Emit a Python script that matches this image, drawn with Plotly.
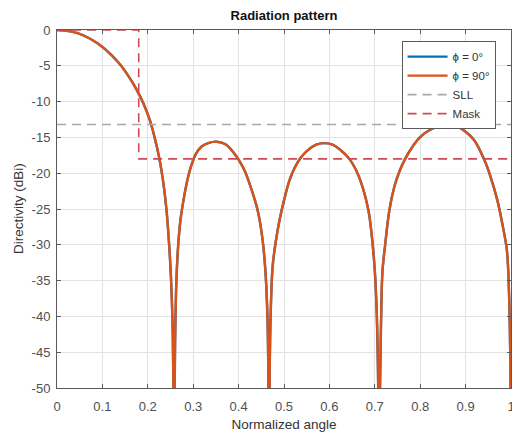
import plotly.graph_objects as go

# ---- data ----
angle = [0.000, 0.030, 0.060, 0.090, 0.120, 0.140, 0.160, 0.175, 0.190, 0.205, 0.215, 0.225, 0.233,
         0.241, 0.247, 0.251, 0.2545, 0.2565, 0.258,
         0.2592, 0.2605, 0.263, 0.267, 0.272, 0.278, 0.285, 0.294, 0.306, 0.318, 0.333, 0.352, 0.372,
         0.391, 0.400, 0.413, 0.428, 0.442, 0.452, 0.459, 0.4635, 0.4658, 0.467,
         0.4682, 0.4705, 0.475, 0.482, 0.490, 0.500, 0.512, 0.523, 0.536, 0.552, 0.571, 0.589, 0.607,
         0.627, 0.644, 0.659, 0.673, 0.686, 0.693, 0.700, 0.7045, 0.7075, 0.710,
         0.7115, 0.714, 0.717, 0.723, 0.732, 0.743, 0.754, 0.766, 0.783, 0.801, 0.823, 0.845, 0.860,
         0.878, 0.898, 0.919, 0.941, 0.955, 0.970, 0.981, 0.991, 0.9955, 0.998, 0.999, 1.000]
directivity = [0.0, -0.2, -0.8, -1.9, -3.5, -4.9, -6.7, -8.3, -10.2, -12.7, -15.0, -17.8, -20.8,
               -25.0, -30.0, -34.5, -41.0, -50.0, -80.0,
               -50.0, -42.0, -35.0, -30.0, -26.5, -24.0, -21.6, -19.3, -17.3, -16.3, -15.8, -15.6, -16.0,
               -17.3, -18.1, -19.6, -22.2, -25.2, -28.9, -33.6, -40.0, -50.0, -80.0,
               -50.0, -40.0, -33.0, -29.5, -26.6, -23.8, -21.0, -19.3, -17.9, -16.8, -16.0, -15.8, -16.0,
               -16.9, -18.0, -19.6, -21.9, -25.2, -28.5, -33.6, -40.0, -50.0, -80.0,
               -50.0, -40.0, -33.6, -29.9, -25.2, -21.9, -19.8, -18.1, -16.3, -14.9, -13.9, -13.4, -13.3,
               -13.4, -14.1, -15.4, -18.1, -20.5, -23.8, -27.1, -30.8, -36.5, -44.0, -50.0, -80.0]

sll_x = [0.0, 1.0]
sll_y = [-13.2, -13.2]

mask_x = [0.0, 0.18, 0.18, 1.0]
mask_y = [0.0, 0.0, -18.0, -18.0]

x_ticks = [0, 0.1, 0.2, 0.3, 0.4, 0.5, 0.6, 0.7, 0.8, 0.9, 1]
x_ticklabels = ["0", "0.1", "0.2", "0.3", "0.4", "0.5", "0.6", "0.7", "0.8", "0.9", "1"]
y_ticks = [0, -5, -10, -15, -20, -25, -30, -35, -40, -45, -50]
y_ticklabels = ["0", "-5", "-10", "-15", "-20", "-25", "-30", "-35", "-40", "-45", "-50"]

FONT = "Liberation Sans, Arial, Helvetica, sans-serif"

fig = go.Figure()
fig.add_trace(go.Scatter(x=angle, y=directivity, mode="lines", name="\u03d5 = 0\u00b0",
                         line=dict(color="#0072BD", width=2.4, shape="spline", smoothing=1.0)))
fig.add_trace(go.Scatter(x=angle, y=directivity, mode="lines", name="\u03d5 = 90\u00b0",
                         line=dict(color="#D95319", width=2.4, shape="spline", smoothing=1.0)))
fig.add_trace(go.Scatter(x=sll_x, y=sll_y, mode="lines", name="SLL",
                         line=dict(color="#A8A8A8", width=1.6, dash="9px,6px")))
fig.add_trace(go.Scatter(x=mask_x, y=mask_y, mode="lines", name="Mask",
                         line=dict(color="#D04A55", width=1.6, dash="9px,6px")))

axis_common = dict(showline=True, linecolor="#5a5a5a", linewidth=1, mirror="ticks",
                   ticks="inside", ticklen=4, tickcolor="#5a5a5a",
                   showgrid=True, gridcolor="#E3E3E3", gridwidth=1, zeroline=False,
                   tickfont=dict(family=FONT, size=13, color="#505050"))

fig.update_layout(
    width=512, height=432,
    margin=dict(l=57, r=1, t=30, b=44, autoexpand=False),
    paper_bgcolor="white", plot_bgcolor="white",
    title=dict(text="<b>Radiation pattern</b>", xref="paper", x=0.5, xanchor="center",
               yref="container", y=0.965, yanchor="middle",
               font=dict(family=FONT, size=13, color="#111111")),
    xaxis=dict(range=[0, 1], tickvals=x_ticks, ticktext=x_ticklabels, ticklabelstandoff=6,
               ticklabeloverflow="allow", automargin=False,
               title=dict(text="Normalized angle", standoff=6,
                          font=dict(family=FONT, size=13.5, color="#333333")),
               **axis_common),
    yaxis=dict(range=[-50, 0], tickvals=y_ticks, ticktext=y_ticklabels, ticklabelstandoff=3,
               automargin=False, **axis_common),
    annotations=[dict(text="Directivity (dBi)", xref="paper", yref="paper", x=0, y=0.5,
                      xanchor="center", yanchor="middle", xshift=-39, textangle=-90,
                      showarrow=False, font=dict(family=FONT, size=13.5, color="#333333"))],
    legend=dict(x=0.966, xanchor="right", y=0.969, yanchor="top",
                bgcolor="white", bordercolor="#5a5a5a", borderwidth=1,
                font=dict(family=FONT, size=11.5, color="#333333"),
                tracegroupgap=0, itemwidth=40),
    showlegend=True,
)

fig.write_html("out.html", config={"displayModeBar": False},
               post_script="document.body.style.margin='0px';document.body.style.overflow='hidden';")
